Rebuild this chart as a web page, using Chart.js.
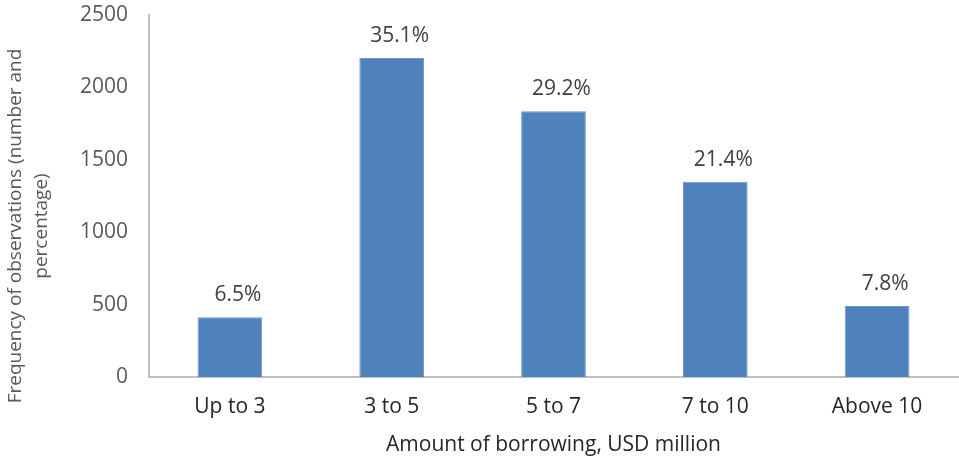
<!DOCTYPE html>
<html>
<head>
<meta charset="utf-8">
<script src="https://cdn.jsdelivr.net/npm/chart.js@4.4.1/dist/chart.umd.min.js"></script>
<style>
  html, body { margin: 0; padding: 0; background: #fff; }
  #wrap { width: 959px; height: 460px; }
</style>
</head>
<body>
<div id="wrap"><canvas id="borrowChart" width="959" height="460"></canvas></div>
<script>
// values
const categories = ['Up to 3', '3 to 5', '5 to 7', '7 to 10', 'Above 10'];
const counts = [412, 2203, 1835, 1349, 490];
const shares = ['6.5%', '35.1%', '29.2%', '21.4%', '7.8%'];
const yTicks = [0, 500, 1000, 1500, 2000, 2500];
const yTitle = ['Frequency of observations (number and', 'percentage)'];
const xTitle = 'Amount of borrowing, USD million';

const FONT = 'Open Sans';

// percentage labels above the bars
const barLabels = {
    id: 'barLabels',
    afterDatasetsDraw(chart) {
        const ctx = chart.ctx;
        const meta = chart.getDatasetMeta(0);
        ctx.save();
        ctx.font = '21px "' + FONT + '"';
        ctx.fillStyle = '#404040';
        ctx.textAlign = 'center';
        ctx.textBaseline = 'middle';
        meta.data.forEach((bar, i) => {
            ctx.fillText(shares[i], bar.x + 8, bar.y - 22);
        });
        ctx.restore();
    }
};

// two-line rotated y title, centred on the canvas like the original
const yAxisTitle = {
    id: 'yAxisTitle',
    afterDraw(chart) {
        const ctx = chart.ctx;
        ctx.save();
        ctx.font = '19px "' + FONT + '"';
        ctx.fillStyle = '#595959';
        ctx.textAlign = 'center';
        ctx.textBaseline = 'middle';
        ctx.translate(16, 226);
        ctx.rotate(-Math.PI / 2);
        yTitle.forEach((line, i) => ctx.fillText(line, 0, i * 26));
        ctx.restore();
    }
};

new Chart(document.getElementById('borrowChart'), {
    type: 'bar',
    data: {
        labels: categories,
        datasets: [{
            data: counts,
            backgroundColor: '#4F81BD',
            borderColor: '#7096c8',
            borderWidth: 1,
            categoryPercentage: 1,
            barPercentage: 0.4
        }]
    },
    options: {
        responsive: false,
        animation: false,
        layout: { padding: { top: 15, right: 1, left: 0, bottom: 0 } },
        plugins: {
            legend: { display: false },
            tooltip: { enabled: false }
        },
        scales: {
            x: {
                grid: { display: false, drawTicks: false },
                border: { color: '#bfbfbf', width: 2 },
                ticks: {
                    color: '#262626',
                    font: { family: FONT, size: 21 },
                    padding: 17
                },
                title: {
                    display: true,
                    text: xTitle,
                    color: '#262626',
                    font: { family: FONT, size: 21 },
                    padding: { top: 0, bottom: 2 }
                },
                afterFit(scale) {
                    scale.height = 83;
                    scale.paddingLeft = 0;
                    scale.paddingRight = 0;
                }
            },
            y: {
                min: 0,
                max: 2500,
                grid: { display: false, drawTicks: false },
                border: { color: '#bfbfbf', width: 2 },
                afterBuildTicks(scale) {
                    scale.ticks = yTicks.map(v => ({ value: v }));
                },
                ticks: {
                    color: '#595959',
                    font: { family: FONT, size: 21 },
                    padding: 21,
                    callback: v => String(v)
                },
                afterFit(scale) {
                    scale.width = 149;
                    scale.paddingTop = 0;
                    scale.paddingBottom = 0;
                }
            }
        }
    },
    plugins: [barLabels, yAxisTitle]
});
</script>
</body>
</html>
